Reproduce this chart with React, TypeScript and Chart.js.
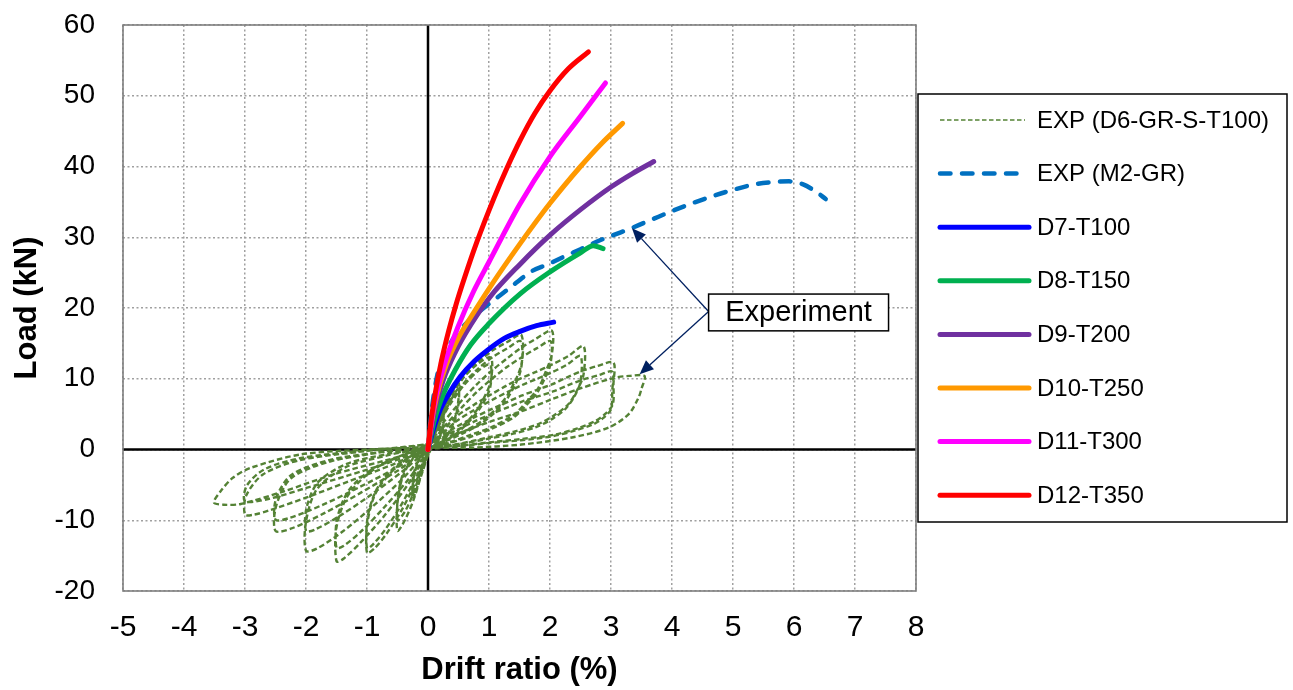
import { useEffect, useRef } from "react";
import { Chart, registerables } from "chart.js";

Chart.register(...registerables);

const FONT = "'Liberation Sans', Arial, Helvetica, sans-serif";

type Pt = [number, number];

const driftTicks = [-5, -4, -3, -2, -1, 0, 1, 2, 3, 4, 5, 6, 7, 8];
const loadTicks = [-20, -10, 0, 10, 20, 30, 40, 50, 60];

const seriesLabels = [
  "EXP (D6-GR-S-T100)",
  "EXP (M2-GR)",
  "D7-T100",
  "D8-T150",
  "D9-T200",
  "D10-T250",
  "D11-T300",
  "D12-T350",
];

// Cyclic test record of D6-GR-S-T100, one array per load cycle (drift %, load kN)
const d6Cycle1: Pt[] = [
  [0.06, 1.8], [0.14, 3.6], [0.25, 5.8], [0.24, 3.2], [0.15, 1.0], [0.05, 0.2],
  [-0.06, -2.2], [-0.15, -4.6], [-0.25, -7.0], [-0.24, -4.2], [-0.15, -1.5], [-0.05, -0.2], [0, 0.3],
];
const d6Cycle2: Pt[] = [
  [0.07, 1.6], [0.15, 3.3], [0.25, 5.0], [0.24, 2.8], [0.14, 0.9], [0.04, 0.1],
  [-0.07, -2.0], [-0.16, -4.2], [-0.25, -6.2], [-0.24, -3.6], [-0.14, -1.2], [-0.04, -0.1], [0, 0.3],
];
const d6Cycle3: Pt[] = [
  [0.1, 2.4], [0.22, 5.0], [0.36, 7.6], [0.5, 9.5], [0.49, 6.4], [0.4, 3.4], [0.24, 1.2], [0.06, 0.2],
  [-0.1, -3.4], [-0.24, -7.2], [-0.38, -10.0], [-0.5, -11.5], [-0.5, -7.6], [-0.42, -4.0], [-0.26, -1.4], [-0.08, -0.2], [0, 0.4],
];
const d6Cycle4: Pt[] = [
  [0.11, 2.1], [0.24, 4.6], [0.37, 6.9], [0.5, 8.6], [0.49, 5.8], [0.39, 3.0], [0.22, 1.0], [0.05, 0.2],
  [-0.11, -3.0], [-0.25, -6.4], [-0.38, -8.8], [-0.5, -10.0], [-0.49, -6.5], [-0.4, -3.2], [-0.24, -1.1], [-0.07, -0.2], [0, 0.4],
];
const d6Cycle5: Pt[] = [
  [0.12, 2.8], [0.3, 6.4], [0.56, 9.9], [0.8, 12.0], [1.03, 13.0], [1.03, 9.7], [0.9, 7.0], [0.75, 5.0], [0.52, 2.9], [0.26, 1.2], [0.05, 0.2],
  [-0.18, -4.2], [-0.42, -8.4], [-0.68, -11.9], [-0.88, -14.0], [-1.0, -14.6], [-0.99, -10.2], [-0.86, -6.2], [-0.58, -3.0], [-0.27, -0.9], [0, 0.5],
];
const d6Cycle6: Pt[] = [
  [0.13, 2.5], [0.32, 5.8], [0.58, 9.0], [0.82, 11.1], [1.02, 12.0], [1.02, 8.8], [0.88, 6.2], [0.72, 4.4], [0.5, 2.5], [0.25, 1.0], [0.05, 0.2],
  [-0.2, -4.0], [-0.45, -8.0], [-0.7, -11.3], [-0.9, -13.4], [-1.0, -14.0], [-0.99, -9.6], [-0.84, -5.6], [-0.56, -2.6], [-0.26, -0.8], [0, 0.5],
];
const d6Cycle7: Pt[] = [
  [0.1, 3.0], [0.22, 5.9], [0.55, 9.9], [0.8, 12.2], [1.04, 13.9], [1.3, 15.2], [1.53, 16.2], [1.53, 12.0], [1.31, 7.8], [1.1, 5.6], [0.88, 4.0], [0.6, 2.6], [0.33, 1.5], [0.06, 0.3],
  [-0.3, -4.6], [-0.7, -9.2], [-1.1, -13.1], [-1.38, -15.4], [-1.5, -15.8], [-1.5, -11.0], [-1.32, -6.6], [-0.95, -3.2], [-0.48, -1.0], [0, 0.6],
];
const d6Cycle8: Pt[] = [
  [0.11, 2.7], [0.25, 5.4], [0.57, 9.2], [0.82, 11.4], [1.05, 13.0], [1.3, 14.3], [1.52, 15.3], [1.52, 11.2], [1.3, 7.2], [1.08, 5.1], [0.86, 3.6], [0.58, 2.3], [0.3, 1.2], [0.05, 0.2],
  [-0.32, -4.2], [-0.72, -8.2], [-1.1, -11.6], [-1.38, -13.6], [-1.5, -13.9], [-1.49, -9.8], [-1.3, -5.8], [-0.92, -2.8], [-0.45, -0.9], [0, 0.6],
];
const d6Cycle9: Pt[] = [
  [0.25, 3.8], [0.55, 6.9], [0.8, 9.2], [1.04, 11.1], [1.3, 12.9], [1.53, 14.4], [1.78, 15.7], [2.03, 16.8], [2.03, 13.5], [1.92, 10.8], [1.81, 8.7], [1.6, 6.6], [1.42, 5.0], [1.05, 3.2], [0.71, 2.1], [0.35, 1.0], [0.05, 0.2],
  [-0.4, -4.0], [-0.9, -8.0], [-1.4, -11.6], [-1.82, -14.0], [-2.0, -14.3], [-2.0, -10.2], [-1.82, -5.6], [-1.35, -2.5], [-0.65, -0.8], [0, 0.6],
];
const d6Cycle10: Pt[] = [
  [0.27, 3.3], [0.57, 6.1], [0.82, 8.3], [1.05, 10.0], [1.3, 11.7], [1.53, 13.0], [1.78, 14.3], [2.01, 15.3], [2.01, 12.2], [1.9, 9.8], [1.78, 7.9], [1.58, 6.0], [1.4, 4.5], [1.03, 2.9], [0.7, 1.8], [0.34, 0.9], [0.05, 0.2],
  [-0.45, -3.3], [-0.95, -6.5], [-1.45, -9.4], [-1.85, -11.3], [-2.0, -11.5], [-1.99, -8.2], [-1.8, -4.6], [-1.32, -2.0], [-0.64, -0.6], [0, 0.6],
];
const d6Cycle11: Pt[] = [
  [0.44, 4.5], [0.75, 6.3], [1.04, 7.8], [1.28, 9.0], [1.53, 10.1], [1.78, 11.0], [2.03, 12.0], [2.3, 13.2], [2.55, 14.6], [2.55, 10.6], [2.44, 8.3], [2.3, 6.4], [2.08, 4.9], [1.81, 3.6], [1.4, 2.5], [0.99, 1.7], [0.5, 0.8], [0.05, 0.2],
  [-0.5, -3.0], [-1.1, -6.1], [-1.7, -9.0], [-2.25, -11.2], [-2.5, -11.5], [-2.49, -8.0], [-2.25, -4.1], [-1.65, -1.8], [-0.85, -0.5], [0, 0.7],
];
const d6Cycle12: Pt[] = [
  [0.45, 3.9], [0.76, 5.6], [1.05, 7.0], [1.3, 8.1], [1.54, 9.1], [1.79, 10.0], [2.03, 10.9], [2.28, 12.0], [2.5, 13.2], [2.5, 9.6], [2.4, 7.5], [2.26, 5.8], [2.05, 4.4], [1.78, 3.2], [1.38, 2.2], [0.97, 1.5], [0.48, 0.7], [0.05, 0.2],
  [-0.52, -2.6], [-1.12, -5.3], [-1.72, -7.8], [-2.28, -9.7], [-2.5, -9.9], [-2.49, -6.9], [-2.24, -3.6], [-1.62, -1.5], [-0.82, -0.4], [0, 0.7],
];
const d6Cycle13: Pt[] = [
  [0.44, 3.1], [0.75, 4.5], [1.04, 5.7], [1.3, 6.7], [1.53, 7.6], [1.78, 8.4], [2.03, 9.2], [2.28, 10.2], [2.52, 11.1], [2.78, 11.8], [3.04, 12.3], [3.04, 9.2], [3.03, 6.4], [2.9, 5.0], [2.74, 4.0], [2.45, 3.0], [2.08, 2.1], [1.55, 1.5], [0.99, 1.0], [0.5, 0.5], [0.05, 0.2],
  [-0.6, -2.2], [-1.3, -4.5], [-2.0, -6.8], [-2.6, -8.6], [-2.85, -9.2], [-3.0, -9.2], [-2.98, -6.5], [-2.7, -3.5], [-2.1, -1.5], [-1.1, -0.3], [0, 0.8],
];
const d6Cycle14: Pt[] = [
  [0.46, 2.7], [0.77, 4.0], [1.06, 5.1], [1.32, 6.0], [1.55, 6.8], [1.8, 7.5], [2.05, 8.2], [2.3, 9.1], [2.55, 9.9], [2.8, 10.5], [3.02, 11.0], [3.02, 8.2], [3.0, 5.7], [2.88, 4.5], [2.72, 3.6], [2.42, 2.7], [2.05, 1.9], [1.52, 1.3], [0.97, 0.9], [0.48, 0.4], [0.05, 0.2],
  [-0.62, -1.8], [-1.32, -3.7], [-2.02, -5.5], [-2.62, -7.0], [-3.0, -7.3], [-2.97, -5.1], [-2.68, -2.8], [-2.08, -1.2], [-1.08, -0.2], [0, 0.8],
];
const d6Cycle15: Pt[] = [
  [0.44, 2.1], [0.75, 3.1], [1.04, 4.0], [1.53, 5.4], [2.03, 7.1], [2.52, 8.7], [3.04, 10.1], [3.3, 10.4], [3.55, 10.4], [3.5, 8.6], [3.45, 7.3], [3.29, 5.0], [2.96, 3.1], [2.36, 1.7], [1.53, 0.7], [0.71, 0.25], [0.05, 0.1],
  [-0.72, -1.6], [-1.54, -3.5], [-2.36, -5.9], [-3.07, -7.7], [-3.35, -7.8], [-3.51, -7.5], [-3.4, -5.9], [-3.2, -4.0], [-2.91, -2.6], [-2.09, -0.7], [-0.99, 0], [0, 0.3],
];

// Monotonic test record of M2-GR
const m2Gr: Pt[] = [
  [0, 0], [0.04, 4], [0.1, 8], [0.16, 10.8], [0.25, 13], [0.4, 15.5], [0.6, 17.6], [0.8, 19.2], [1.0, 20.6],
  [1.2, 21.9], [1.45, 23.6], [1.7, 25.2], [1.97, 26.2], [2.24, 27.3], [2.5, 28.3], [2.8, 29.5], [3.07, 30.4],
  [3.34, 31.3], [3.67, 32.5], [4.0, 33.7], [4.33, 34.8], [4.66, 35.8], [5.0, 36.7], [5.37, 37.5], [5.65, 37.8],
  [5.92, 37.9], [6.14, 37.5], [6.35, 36.5], [6.52, 35.4],
];

// Analysis curves
const d7T100: Pt[] = [
  [0, 0], [0.08, 2.6], [0.2, 5.6], [0.35, 8.0], [0.53, 10.3], [0.75, 12.4], [0.97, 14.0], [1.25, 15.7], [1.51, 16.7], [1.78, 17.5], [2.06, 18.0],
];
const d8T150: Pt[] = [
  [0, 0], [0.1, 4.0], [0.25, 7.8], [0.45, 11.3], [0.7, 14.8], [1.0, 17.8], [1.51, 22.0], [2.0, 25.1], [2.5, 27.8], [2.71, 28.8], [2.87, 28.4],
];
const d9T200: Pt[] = [
  [0, 0], [0.1, 5.2], [0.25, 9.8], [0.45, 13.8], [0.7, 17.6], [1.02, 21.6], [1.51, 26.2], [2.0, 30.3], [2.5, 33.9], [3.0, 37.1], [3.35, 39.0], [3.7, 40.7],
];
const d10T250: Pt[] = [
  [0, 0], [0.05, 3.5], [0.15, 7.8], [0.3, 12.0], [0.5, 15.8], [0.76, 19.5], [1.02, 23.0], [1.51, 29.1], [2.0, 34.8], [2.5, 40.0], [2.85, 43.3], [3.19, 46.1],
];
const d11T300: Pt[] = [
  [0, 0], [0.05, 3.5], [0.1, 6.3], [0.25, 11.5], [0.5, 17.5], [0.75, 22.4], [1.0, 26.5], [1.5, 34.6], [2.0, 41.4], [2.5, 47.1], [2.91, 51.8],
];
const d12T350: Pt[] = [
  [0, 0], [0.05, 4.0], [0.12, 8.0], [0.22, 12.5], [0.34, 16.8], [0.46, 20.5], [0.6, 24.3], [0.8, 29.3], [1.08, 35.5], [1.3, 39.9], [1.51, 43.7], [1.75, 47.5], [2.0, 50.7], [2.3, 53.8], [2.63, 56.2],
];

const d6Path: Pt[] = [
  [0, 0],
  ...d6Cycle1, ...d6Cycle2, ...d6Cycle3, ...d6Cycle4, ...d6Cycle5,
  ...d6Cycle6, ...d6Cycle7, ...d6Cycle8, ...d6Cycle9, ...d6Cycle10,
  ...d6Cycle11, ...d6Cycle12, ...d6Cycle13, ...d6Cycle14, ...d6Cycle15,
];

const calloutText = "Experiment";
// callout frame and arrow tips, in axis units
const calloutBox = { x0: 4.6, x1: 7.55, yTop: 21.97, yBottom: 16.77 };
const calloutTargets: Pt[] = [
  [3.344, 31.26],
  [3.469, 10.65],
];

const toXY = (pts: Pt[]) => pts.map(([x, y]) => ({ x, y }));

const solid = (label: string, pts: Pt[], color: string, order: number) => ({
  label,
  data: toXY(pts),
  showLine: true,
  borderColor: color,
  backgroundColor: color,
  borderWidth: 5,
  borderCapStyle: "round",
  borderJoinStyle: "round",
  cubicInterpolationMode: "monotone",
  pointRadius: 0,
  order,
});

function drawArrow(ctx: CanvasRenderingContext2D, x1: number, y1: number, x2: number, y2: number) {
  const ang = Math.atan2(y2 - y1, x2 - x1);
  const len = 14;
  const half = 6;
  const bx = x2 - len * Math.cos(ang);
  const by = y2 - len * Math.sin(ang);
  ctx.beginPath();
  ctx.moveTo(x1, y1);
  ctx.lineTo(bx, by);
  ctx.stroke();
  ctx.beginPath();
  ctx.moveTo(x2, y2);
  ctx.lineTo(bx + half * Math.sin(ang), by - half * Math.cos(ang));
  ctx.lineTo(bx - half * Math.sin(ang), by + half * Math.cos(ang));
  ctx.closePath();
  ctx.fill();
}

const framePlugin = {
  id: "frameAndZeroAxes",
  beforeDatasetsDraw(chart: any) {
    const { ctx, chartArea, scales } = chart;
    const { left, right, top, bottom } = chartArea;
    const x0 = scales.x.getPixelForValue(0);
    const y0 = scales.y.getPixelForValue(0);
    ctx.save();
    ctx.strokeStyle = "#000";
    ctx.lineWidth = 2.5;
    ctx.beginPath();
    ctx.moveTo(x0, top);
    ctx.lineTo(x0, bottom);
    ctx.moveTo(left, y0);
    ctx.lineTo(right, y0);
    ctx.stroke();
    ctx.restore();
  },
  afterDatasetsDraw(chart: any) {
    const { ctx, chartArea } = chart;
    ctx.save();
    ctx.strokeStyle = "#7f7f7f";
    ctx.lineWidth = 1.6;
    ctx.strokeRect(chartArea.left, chartArea.top, chartArea.right - chartArea.left, chartArea.bottom - chartArea.top);
    ctx.restore();
  },
};

const calloutPlugin = {
  id: "experimentCallout",
  afterDatasetsDraw(chart: any) {
    const { ctx, scales } = chart;
    const bx0 = scales.x.getPixelForValue(calloutBox.x0);
    const bx1 = scales.x.getPixelForValue(calloutBox.x1);
    const by0 = scales.y.getPixelForValue(calloutBox.yTop);
    const by1 = scales.y.getPixelForValue(calloutBox.yBottom);
    const sy = (by0 + by1) / 2 - 1;
    ctx.save();
    ctx.strokeStyle = "#002060";
    ctx.fillStyle = "#002060";
    ctx.lineWidth = 1.3;
    calloutTargets.forEach(([tx, ty]) => {
      drawArrow(ctx, bx0, sy, scales.x.getPixelForValue(tx), scales.y.getPixelForValue(ty));
    });
    ctx.fillStyle = "#fff";
    ctx.fillRect(bx0, by0, bx1 - bx0, by1 - by0);
    ctx.strokeStyle = "#000";
    ctx.lineWidth = 1.5;
    ctx.strokeRect(bx0, by0, bx1 - bx0, by1 - by0);
    ctx.fillStyle = "#000";
    ctx.font = `29px ${FONT}`;
    ctx.textAlign = "center";
    ctx.textBaseline = "middle";
    ctx.fillText(calloutText, (bx0 + bx1) / 2, (by0 + by1) / 2 + 1);
    ctx.restore();
  },
};

const legendPlugin = {
  id: "boxedLegend",
  afterDraw(chart: any) {
    const { ctx, chartArea } = chart;
    const left = chartArea.right + 2;
    const top = 94;
    const width = 369;
    const height = 428;
    ctx.save();
    ctx.fillStyle = "#fff";
    ctx.fillRect(left, top, width, height);
    ctx.strokeStyle = "#000";
    ctx.lineWidth = 1.5;
    ctx.strokeRect(left, top, width, height);
    seriesLabels.forEach((label, i) => {
      const ds = chart.data.datasets.find((d: any) => d.label === label);
      if (!ds) return;
      const y = top + 26 + i * 53.6;
      const isThin = i === 0;
      ctx.beginPath();
      ctx.setLineDash(isThin ? [4.5, 2.5] : ds.borderDash || []);
      ctx.lineWidth = isThin ? 1.5 : ds.borderWidth;
      ctx.lineCap = ds.borderCapStyle || "butt";
      ctx.strokeStyle = ds.borderColor;
      ctx.moveTo(left + 22, y);
      ctx.lineTo(left + (i === 1 ? 104 : isThin ? 107 : 111), y);
      ctx.stroke();
      ctx.setLineDash([]);
      ctx.fillStyle = "#000";
      ctx.font = `24px ${FONT}`;
      ctx.textAlign = "left";
      ctx.textBaseline = "middle";
      ctx.fillText(label, left + 119, y + 1);
    });
    ctx.restore();
  },
};

export default function App() {
  const ref = useRef<HTMLCanvasElement | null>(null);

  useEffect(() => {
    const canvas = ref.current;
    if (!canvas) return;
    const datasets: any[] = [
      {
        label: seriesLabels[0],
        data: toXY(d6Path),
        showLine: true,
        borderColor: "#548235",
        backgroundColor: "#548235",
        borderWidth: 2.4,
        borderDash: [5.5, 3],
        tension: 0.3,
        pointRadius: 0,
        order: 7,
      },
      {
        label: seriesLabels[1],
        data: toXY(m2Gr),
        showLine: true,
        borderColor: "#0070C0",
        backgroundColor: "#0070C0",
        borderWidth: 4.5,
        borderDash: [10.5, 11.5],
        borderCapStyle: "round",
        cubicInterpolationMode: "monotone",
        pointRadius: 0,
        order: 6,
      },
      solid(seriesLabels[2], d7T100, "#0000FF", 5),
      solid(seriesLabels[3], d8T150, "#00B050", 4),
      solid(seriesLabels[4], d9T200, "#7030A0", 3),
      solid(seriesLabels[5], d10T250, "#FF9900", 2),
      solid(seriesLabels[6], d11T300, "#FF00FF", 1),
      solid(seriesLabels[7], d12T350, "#FF0000", 0),
    ];

    const gridColor = "#a0a0a0";
    const chart = new Chart(canvas, {
      type: "scatter",
      data: { datasets },
      options: {
        responsive: false,
        animation: false,
        devicePixelRatio: 1,
        layout: { padding: { top: 25, right: 377, bottom: 0, left: 0 } },
        plugins: { legend: { display: false }, tooltip: { enabled: false } },
        scales: {
          x: {
            type: "linear",
            min: -5,
            max: 8,
            afterBuildTicks: (s: any) => {
              s.ticks = driftTicks.map((value) => ({ value }));
            },
            afterFit: (s: any) => {
              s.height = 99;
              s.paddingLeft = 0;
              s.paddingRight = 0;
            },
            grid: { color: gridColor, lineWidth: 1.5, drawTicks: false },
            border: { display: false, dash: [2, 2.5] },
            ticks: {
              color: "#000",
              font: { family: FONT, size: 30 },
              padding: 19,
              maxRotation: 0,
              autoSkip: false,
              callback: (v: any) => String(v),
            },
            title: {
              display: true,
              text: "Drift ratio (%)",
              color: "#000",
              font: { family: FONT, size: 31, weight: "bold" },
              padding: { top: 0, bottom: 1 },
            },
          },
          y: {
            type: "linear",
            min: -20,
            max: 60,
            afterBuildTicks: (s: any) => {
              s.ticks = loadTicks.map((value) => ({ value }));
            },
            afterFit: (s: any) => {
              s.width = 123;
              s.paddingTop = 0;
              s.paddingBottom = 0;
            },
            grid: { color: gridColor, lineWidth: 1.5, drawTicks: false },
            border: { display: false, dash: [2, 2.5] },
            ticks: {
              color: "#000",
              font: { family: FONT, size: 28 },
              padding: 28,
              autoSkip: false,
              callback: (v: any) => String(v),
            },
            title: {
              display: true,
              text: "Load (kN)",
              color: "#000",
              font: { family: FONT, size: 31, weight: "bold" },
              padding: { top: 9, bottom: 0 },
            },
          },
        },
      } as any,
      plugins: [framePlugin, calloutPlugin, legendPlugin],
    });
    return () => chart.destroy();
  }, []);

  return (
    <div style={{ position: "fixed", left: 0, top: 0, width: 1293, height: 690, background: "#fff" }}>
      <canvas ref={ref} width={1293} height={690} style={{ display: "block" }} />
    </div>
  );
}
